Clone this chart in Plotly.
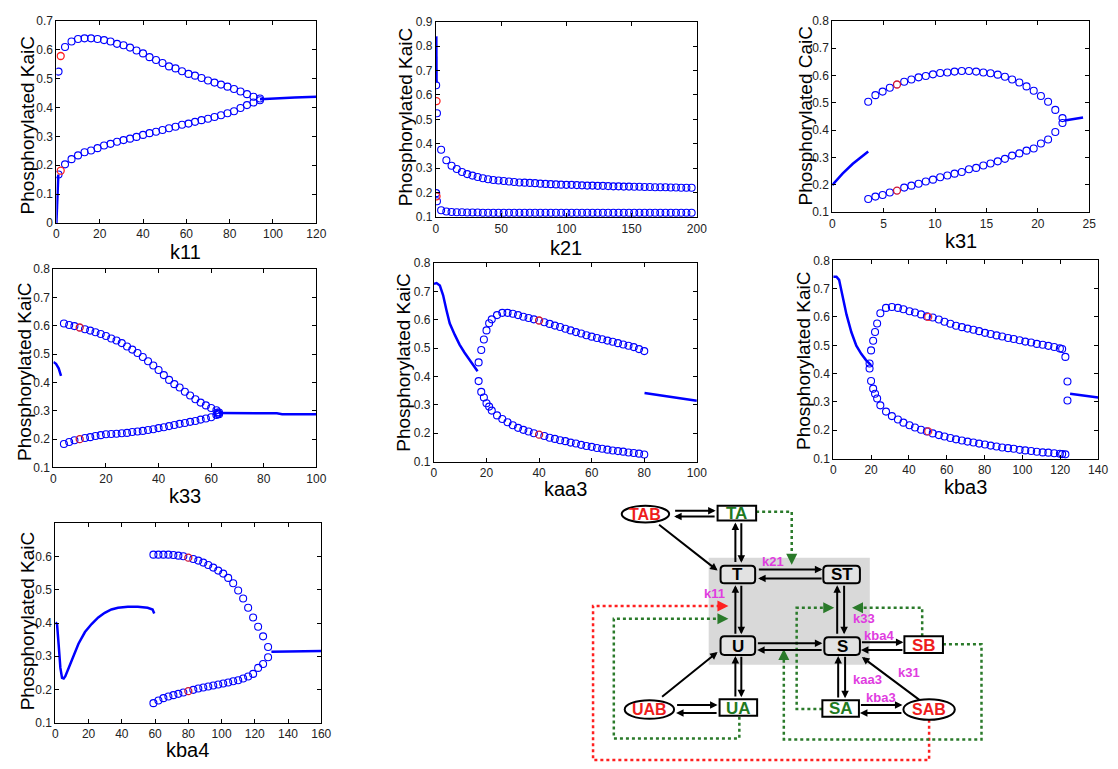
import plotly.graph_objects as go

W, H = 1118, 769
FONT = "Liberation Sans, Arial, sans-serif"
BLUE = "#0000ff"

# ------------------------------------------------------------------ data
# k11 panel
k11_line_x = [0, 0.3, 0.6, 0.9, None, 94, 100, 110, 120]
k11_line_y = [0.0, 0.09, 0.15, 0.168, None, 0.428, 0.431, 0.434, 0.437]
k11_x = [1, 4, 7, 10, 13, 16, 19, 22, 25, 28, 31, 34, 37, 40, 43, 46, 49, 52, 55, 58, 61, 64, 67, 70, 73, 76, 79, 82, 85, 88, 91, 94]
k11_up = [0.524, 0.609, 0.628, 0.637, 0.639, 0.639, 0.637, 0.633, 0.628, 0.620, 0.615, 0.607, 0.597, 0.587, 0.574, 0.564,
          0.554, 0.542, 0.535, 0.525, 0.516, 0.510, 0.502, 0.493, 0.486, 0.479, 0.472, 0.464, 0.455, 0.446, 0.437, 0.431]
k11_lo = [0.168, 0.203, 0.221, 0.234, 0.245, 0.251, 0.259, 0.268, 0.274, 0.281, 0.287, 0.292, 0.298, 0.305, 0.311, 0.316,
          0.322, 0.328, 0.333, 0.340, 0.344, 0.350, 0.356, 0.361, 0.367, 0.373, 0.380, 0.387, 0.398, 0.408, 0.417, 0.425]
k11_red_x = [2, 2]
k11_red_y = [0.578, 0.181]

# k21 panel
k21_line_x = [0.3, 0.4, 0.5]
k21_line_y = [0.84, 0.72, 0.65]
k21_x = [0.2, 0.8, 4, 8, 12, 16, 20, 24, 28, 32, 36, 40, 44, 48, 52, 56, 60, 64, 68, 72, 76, 80, 84, 88, 92, 96, 100,
         104, 108, 112, 116, 120, 124, 128, 132, 136, 140, 144, 148, 152, 156, 160, 164, 168, 172, 176, 180, 184,
         188, 192, 196]
k21_up = [0.640, 0.525, 0.376, 0.333, 0.310, 0.297, 0.285, 0.276, 0.270, 0.264, 0.259, 0.255, 0.252, 0.250, 0.248, 0.246,
          0.244, 0.242, 0.241, 0.240, 0.239, 0.237, 0.236, 0.235, 0.234, 0.233, 0.232, 0.232, 0.231, 0.230, 0.229,
          0.229, 0.228, 0.228, 0.227, 0.226, 0.226, 0.225, 0.225, 0.224, 0.224, 0.223, 0.223, 0.222, 0.222, 0.222,
          0.221, 0.221, 0.220, 0.220, 0.220]
k21_lo = [0.198, 0.165, 0.128, 0.123, 0.121, 0.120, 0.120, 0.119, 0.119, 0.119, 0.118, 0.118, 0.118, 0.118, 0.118, 0.118,
          0.118, 0.118, 0.118, 0.118, 0.118, 0.118, 0.118, 0.118, 0.118, 0.118, 0.118, 0.118, 0.118, 0.118, 0.118,
          0.118, 0.118, 0.118, 0.118, 0.118, 0.118, 0.118, 0.118, 0.118, 0.118, 0.118, 0.118, 0.118, 0.118, 0.118,
          0.118, 0.118, 0.118, 0.118, 0.118]
k21_red_x = [0.5, 0.5]
k21_red_y = [0.575, 0.185]

# k31 panel
k31_line_x = [0, 1, 2, 2.5, 3, 3.5, None, 22.6, 24.4]
k31_line_y = [0.199, 0.241, 0.277, 0.291, 0.307, 0.322, None, 0.435, 0.446]
k31_x = [3.5, 4.2, 4.9, 5.6, 7.0, 7.7, 8.4, 9.1, 9.8, 10.5, 11.2, 11.9, 12.6, 13.3, 14.0, 14.7, 15.4, 16.1, 16.8, 17.5,
         18.2, 18.9, 19.6, 20.3, 21.0, 21.7, 22.4]
k31_up = [0.504, 0.528, 0.541, 0.555, 0.577, 0.585, 0.593, 0.598, 0.604, 0.609, 0.611, 0.614, 0.616, 0.616, 0.614, 0.611,
          0.608, 0.603, 0.595, 0.585, 0.574, 0.560, 0.544, 0.525, 0.504, 0.474, 0.444]
k31_lo = [0.148, 0.157, 0.163, 0.172, 0.190, 0.197, 0.204, 0.212, 0.219, 0.228, 0.234, 0.241, 0.247, 0.257, 0.262, 0.271,
          0.278, 0.286, 0.295, 0.307, 0.315, 0.325, 0.333, 0.351, 0.366, 0.393, 0.426]
k31_red_x = [6.3, 6.3]
k31_red_y = [0.567, 0.179]

# k33 panel
k33_line_x = [0, 1, 2, 2.9, None, 63, 70, 85, 87, 100]
k33_line_y = [0.472, 0.466, 0.450, 0.423, None, 0.292, 0.292, 0.291, 0.288, 0.288]
k33_x = [4, 6, 8, 12, 14, 16, 18, 20, 22, 24, 26, 28, 30, 32, 34, 36, 38, 40, 42, 44, 46, 48, 50, 52, 54, 56, 58, 60,
         62, 62.5, 63]
k33_up = [0.608, 0.603, 0.599, 0.588, 0.583, 0.577, 0.571, 0.564, 0.555, 0.548, 0.539, 0.527, 0.516, 0.504, 0.490, 0.475,
          0.460, 0.444, 0.426, 0.409, 0.394, 0.382, 0.367, 0.354, 0.341, 0.329, 0.319, 0.310, 0.302, 0.294, 0.288]
k33_lo = [0.183, 0.190, 0.196, 0.204, 0.207, 0.211, 0.214, 0.217, 0.218, 0.219, 0.221, 0.222, 0.225, 0.227, 0.229, 0.232,
          0.235, 0.239, 0.242, 0.246, 0.250, 0.254, 0.257, 0.261, 0.264, 0.269, 0.273, 0.277, 0.285, 0.289, 0.294]
k33_red_x = [10, 10]
k33_red_y = [0.594, 0.200]

# kaa3 panel
kaa3_line_x = [0, 1, 2.25, 3.5, 4.75, 6, 7.9, 9.75, 11.6, 13.5, 15.4, 16.6, None, 80.1, 100]
kaa3_line_y = [0.727, 0.730, 0.721, 0.687, 0.635, 0.588, 0.548, 0.513, 0.485, 0.461, 0.438, 0.419, None, 0.342, 0.315]
kaa3_x = [17, 18, 19, 20, 21, 22, 24, 26, 28, 30, 32, 34, 36, 38, 42, 44, 46, 48, 50, 52, 54, 56, 58, 60, 62, 64, 66,
          68, 70, 72, 74, 76, 78, 80]
kaa3_up = [0.450, 0.494, 0.531, 0.563, 0.588, 0.602, 0.617, 0.625, 0.625, 0.622, 0.617, 0.611, 0.607, 0.602, 0.592,
           0.586, 0.580, 0.575, 0.569, 0.563, 0.557, 0.552, 0.546, 0.541, 0.536, 0.532, 0.527, 0.523, 0.518, 0.513,
           0.509, 0.504, 0.497, 0.490]
kaa3_lo = [0.384, 0.346, 0.326, 0.306, 0.294, 0.280, 0.263, 0.250, 0.239, 0.228, 0.219, 0.212, 0.206, 0.200, 0.190,
           0.184, 0.180, 0.175, 0.172, 0.167, 0.164, 0.159, 0.155, 0.152, 0.148, 0.145, 0.142, 0.139, 0.137, 0.135,
           0.132, 0.130, 0.128, 0.125]
kaa3_red_x = [40, 40]
kaa3_red_y = [0.598, 0.195]

# kba3 panel
kba3_line_x = [0, 1.7, 3.1, 4.9, 7, 9.6, 12.2, 14.8, 17.4, 20, None, 125.2, 140]
kba3_line_y = [0.742, 0.742, 0.731, 0.679, 0.609, 0.546, 0.499, 0.470, 0.447, 0.430, None, 0.329, 0.316]
kba3_x = [19.2, 20, 21.1, 22.1, 23.2, 24.9, 27.9, 31, 34.2, 37.1, 40.3, 43.2, 46.4, 49.5, 52.6, 55.8, 58.8, 61.9, 64.9,
          68, 71, 74.1, 77.1, 80.2, 83.2, 86.3, 89.3, 92.4, 95.4, 98.5, 101.5, 104.6, 107.6, 110.7, 113.7, 116.8,
          119.8, 121, 122.7, 123.8]
kba3_up = [0.436, 0.482, 0.516, 0.547, 0.577, 0.613, 0.632, 0.635, 0.632, 0.627, 0.620, 0.616, 0.609, 0.602, 0.598,
           0.591, 0.583, 0.576, 0.569, 0.564, 0.559, 0.555, 0.550, 0.544, 0.540, 0.535, 0.531, 0.526, 0.522, 0.518,
           0.513, 0.510, 0.505, 0.502, 0.498, 0.494, 0.489, 0.487, 0.459, 0.372]
kba3_lo = [0.418, 0.374, 0.347, 0.329, 0.312, 0.288, 0.266, 0.250, 0.238, 0.227, 0.218, 0.210, 0.202, 0.196, 0.189,
           0.183, 0.178, 0.173, 0.168, 0.164, 0.160, 0.157, 0.153, 0.150, 0.146, 0.143, 0.139, 0.137, 0.135, 0.131,
           0.129, 0.127, 0.124, 0.122, 0.121, 0.119, 0.117, 0.116, 0.115, 0.305]
kba3_red_x = [50.2, 50.2]
kba3_red_y = [0.600, 0.196]

# kba4 panel
kba4_line_x = [0, 1, 2, 3, 4, 5, 6, 7.9, 10.9, 13.9, 17.8, 21.8, 25.8, 29.7, 33.7, 37.7, 43.6, 49.6, 55.5, 57.5, 58.5,
               59.5, None, 130, 160]
kba4_line_y = [0.402, 0.397, 0.333, 0.265, 0.235, 0.233, 0.240, 0.265, 0.304, 0.338, 0.373, 0.397, 0.417, 0.431, 0.441,
               0.446, 0.449, 0.449, 0.446, 0.444, 0.441, 0.429, None, 0.314, 0.316]
kba4_x = [59, 62, 65, 68, 71, 74, 77, 83, 86, 89, 92, 95, 98, 101, 104, 107, 110, 113, 116, 119, 122, 125, 128]
kba4_up = [0.606, 0.606, 0.606, 0.606, 0.605, 0.603, 0.601, 0.593, 0.588, 0.582, 0.575, 0.567, 0.558, 0.549, 0.536,
           0.520, 0.498, 0.474, 0.446, 0.417, 0.389, 0.360, 0.328]
kba4_lo = [0.159, 0.167, 0.174, 0.179, 0.183, 0.187, 0.191, 0.199, 0.203, 0.206, 0.209, 0.212, 0.215, 0.218, 0.221,
           0.225, 0.228, 0.233, 0.239, 0.247, 0.265, 0.277, 0.297]
kba4_red_x = [80, 80]
kba4_red_y = [0.597, 0.195]

# tick labels
ticks_k11_x = [0, 20, 40, 60, 80, 100, 120]
ticks_k11_y = [0, 0.1, 0.2, 0.3, 0.4, 0.5, 0.6, 0.7]
labels_k11_y = ["0", "0.1", "0.2", "0.3", "0.4", "0.5", "0.6", "0.7"]
ticks_k21_x = [0, 50, 100, 150, 200]
ticks_k21_y = [0.1, 0.2, 0.3, 0.4, 0.5, 0.6, 0.7, 0.8, 0.9]
ticks_k31_x = [0, 5, 10, 15, 20, 25]
ticks_08_y = [0.1, 0.2, 0.3, 0.4, 0.5, 0.6, 0.7, 0.8]
ticks_100_x = [0, 20, 40, 60, 80, 100]
ticks_140_x = [0, 20, 40, 60, 80, 100, 120, 140]
ticks_160_x = [0, 20, 40, 60, 80, 100, 120, 140, 160]
ticks_kba4_y = [0.1, 0.2, 0.3, 0.4, 0.5, 0.6]

# ------------------------------------------------------------------ panels
panels = [
    dict(lx=k11_line_x, ly=k11_line_y, x=k11_x, up=k11_up, lo=k11_lo, rx=k11_red_x, ry=k11_red_y, red="#ff2020",
         box=(54, 317, 14, 220), xr=[0, 120], yr=[0, 0.7], xt=ticks_k11_x, yt=ticks_k11_y, ytl=labels_k11_y,
         xlab="k11", ylab="Phosphorylated KaiC", xlp=(185, 250), ylp=(25, 120)),
    dict(lx=k21_line_x, ly=k21_line_y, x=k21_x, up=k21_up, lo=k21_lo, rx=k21_red_x, ry=k21_red_y, red="#ff2020",
         box=(438, 702, 15, 214), xr=[0, 200], yr=[0.1, 0.9], xt=ticks_k21_x, yt=ticks_k21_y, ytl=None,
         xlab="k21", ylab="Phosphorylated KaiC", xlp=(570, 245), ylp=(408, 112)),
    dict(lx=k31_line_x, ly=k31_line_y, x=k31_x, up=k31_up, lo=k31_lo, rx=k31_red_x, ry=k31_red_y, red="#cc1133",
         box=(839, 1099, 14, 209), xr=[0, 25], yr=[0.1, 0.8], xt=ticks_k31_x, yt=ticks_08_y, ytl=None,
         xlab="k31", ylab="Phosphorylated CaiC", xlp=(969, 238), ylp=(812, 111)),
    dict(lx=k33_line_x, ly=k33_line_y, x=k33_x, up=k33_up, lo=k33_lo, rx=k33_red_x, ry=k33_red_y, red="#cc1133",
         box=(51, 317, 267, 469), xr=[0, 100], yr=[0.1, 0.8], xt=ticks_100_x, yt=ticks_08_y, ytl=None,
         xlab="k33", ylab="Phosphorylated KaiC", xlp=(184, 498), ylp=(22, 371)),
    dict(lx=kaa3_line_x, ly=kaa3_line_y, x=kaa3_x, up=kaa3_up, lo=kaa3_lo, rx=kaa3_red_x, ry=kaa3_red_y, red="#cc1133",
         box=(436, 702, 261, 463), xr=[0, 100], yr=[0.1, 0.8], xt=ticks_100_x, yt=ticks_08_y, ytl=None,
         xlab="kaa3", ylab="Phosphorylated KaiC", xlp=(569, 491), ylp=(405, 362)),
    dict(lx=kba3_line_x, ly=kba3_line_y, x=kba3_x, up=kba3_up, lo=kba3_lo, rx=kba3_red_x, ry=kba3_red_y, red="#ee3344",
         box=(840, 1108, 258, 460), xr=[0, 140], yr=[0.1, 0.8], xt=ticks_140_x, yt=ticks_08_y, ytl=None,
         xlab="kba3", ylab="Phosphorylated KaiC", xlp=(974, 489), ylp=(810, 360)),
    dict(lx=kba4_line_x, ly=kba4_line_y, x=kba4_x, up=kba4_up, lo=kba4_lo, rx=kba4_red_x, ry=kba4_red_y, red="#cc1133",
         box=(53, 322, 526, 729), xr=[0, 160], yr=[0.1, 0.7], xt=ticks_160_x, yt=ticks_kba4_y, ytl=None,
         xlab="kba4", ylab="Phosphorylated KaiC", xlp=(187, 757), ylp=(25, 625)),
]


def px(x):
    return x / W


def py(y):
    return 1 - y / H


fig = go.Figure()
layout = dict(width=W, height=H, autosize=False, margin=dict(l=0, r=0, t=0, b=0),
              paper_bgcolor="white", plot_bgcolor="white", showlegend=False)
annotations = []
shapes = []

axis_common = dict(showline=True, linecolor="black", linewidth=1, mirror="ticks", ticks="inside", ticklen=4,
                   tickwidth=1, tickcolor="black", showgrid=False, zeroline=False,
                   tickfont=dict(family=FONT, size=12, color="#222222"))

for i, p in enumerate(panels, start=1):
    xa, ya = f"x{i}", f"y{i}"
    x0, x1, y0, y1 = p["box"]
    fig.add_trace(go.Scatter(x=p["lx"], y=p["ly"], mode="lines", line=dict(color=BLUE, width=2.5),
                             xaxis=xa, yaxis=ya, connectgaps=False, hoverinfo="skip"))
    for branch in (p["up"], p["lo"]):
        fig.add_trace(go.Scatter(x=p["x"], y=branch, mode="markers", xaxis=xa, yaxis=ya,
                                 marker=dict(symbol="circle-open", size=7, color=BLUE, line=dict(width=1.1))))
    fig.add_trace(go.Scatter(x=p["rx"], y=p["ry"], mode="markers", xaxis=xa, yaxis=ya,
                             marker=dict(symbol="circle-open", size=7, color=p["red"], line=dict(width=1.3))))
    xkey = "xaxis" if i == 1 else f"xaxis{i}"
    ykey = "yaxis" if i == 1 else f"yaxis{i}"
    layout[xkey] = dict(axis_common, domain=[px(x0), px(x1)], range=p["xr"], anchor=ya,
                        tickmode="array", tickvals=p["xt"])
    yd = dict(axis_common, domain=[py(y1), py(y0)], range=p["yr"], anchor=xa, tickmode="array", tickvals=p["yt"])
    if p["ytl"] is not None:
        yd["ticktext"] = p["ytl"]
    layout[ykey] = yd
    annotations.append(dict(xref="paper", yref="paper", x=px(p["xlp"][0]), y=py(p["xlp"][1]), text=p["xlab"],
                            showarrow=False, xanchor="center", yanchor="middle",
                            font=dict(family=FONT, size=20, color="black")))
    annotations.append(dict(xref="paper", yref="paper", x=px(p["ylp"][0]), y=py(p["ylp"][1]), text=p["ylab"],
                            showarrow=False, xanchor="center", yanchor="middle", textangle=-90,
                            font=dict(family=FONT, size=19, color="black")))

# ------------------------------------------------------------------ network diagram (layout drawing)
GREEN_T = "#1f7a1f"
RED_T = "#ee1c1c"
MAG = "#e03ce0"
DOT_G = "#2a7a2a"
DOT_R = "#ff2020"


def rect(x0, y0, x1, y1, fill="white", lw=2, color="black", layer="above"):
    shapes.append(dict(type="rect", xref="paper", yref="paper", x0=px(x0), x1=px(x1), y0=py(y1), y1=py(y0),
                       fillcolor=fill, line=dict(color=color, width=lw), layer=layer))


def rrect(x0, y0, x1, y1, r=4, fill="#e2e2e2"):
    pts = [
        f"M{px(x0 + r)},{py(y0)}", f"L{px(x1 - r)},{py(y0)}", f"Q{px(x1)},{py(y0)} {px(x1)},{py(y0 + r)}",
        f"L{px(x1)},{py(y1 - r)}", f"Q{px(x1)},{py(y1)} {px(x1 - r)},{py(y1)}", f"L{px(x0 + r)},{py(y1)}",
        f"Q{px(x0)},{py(y1)} {px(x0)},{py(y1 - r)}", f"L{px(x0)},{py(y0 + r)}",
        f"Q{px(x0)},{py(y0)} {px(x0 + r)},{py(y0)}", "Z"]
    shapes.append(dict(type="path", xref="paper", yref="paper", path=" ".join(pts), fillcolor=fill,
                       line=dict(color="black", width=2)))


def ellipse(x0, y0, x1, y1):
    shapes.append(dict(type="circle", xref="paper", yref="paper", x0=px(x0), x1=px(x1), y0=py(y1), y1=py(y0),
                       fillcolor="white", line=dict(color="black", width=2)))


def dotted(points, color):
    path = "M" + " L".join(f"{px(a)},{py(b)}" for a, b in points)
    shapes.append(dict(type="path", xref="paper", yref="paper", path=path,
                       line=dict(color=color, width=2.5, dash="dot")))


def arrow(x0, y0, x1, y1, color="black", width=2, size=0.75):
    annotations.append(dict(xref="paper", yref="paper", x=px(x1), y=py(y1), axref="pixel", ayref="pixel",
                            ax=x0 - x1, ay=y0 - y1, text="", showarrow=True, arrowhead=2, arrowsize=size,
                            arrowwidth=width, arrowcolor=color, standoff=0, startstandoff=0))


def label(x, y, text, color, size=16, bold=True):
    t = f"<b>{text}</b>" if bold else text
    annotations.append(dict(xref="paper", yref="paper", x=px(x), y=py(y), text=t, showarrow=False,
                            xanchor="center", yanchor="middle", font=dict(family=FONT, size=size, color=color)))


# gray central region
rect(714, 561, 877, 670, fill="#d9d9d9", lw=0, color="#d9d9d9")

# dotted feedback lines
dotted([(762, 514), (798, 514), (798, 560)], DOT_G)
arrow(798, 558, 798, 568, DOT_G, 2, 1.1)
dotted([(745, 723), (745, 745), (618, 745), (618, 623), (724, 623)], DOT_G)
arrow(724, 623, 734, 623, DOT_G, 2, 1.1)
dotted([(937, 726), (937, 767), (597, 767), (597, 610), (724, 610)], DOT_R)
arrow(724, 610, 734, 610, DOT_R, 2, 1.1)
dotted([(829, 715), (803, 715), (803, 612), (832, 612)], DOT_G)
arrow(831, 612, 841, 612, DOT_G, 2, 1.1)
dotted([(930, 641), (930, 612), (868, 612)], DOT_G)
arrow(869, 612, 859, 612, DOT_G, 2, 1.1)
dotted([(951, 649), (990, 649), (990, 746), (790, 746), (790, 664)], DOT_G)
arrow(790, 664, 790, 654, DOT_G, 2, 1.1)

# solid reaction arrows
solid_arrows = [
    (679, 513, 721, 513), (721, 519, 679, 519),
    (741, 566, 741, 525), (747, 525, 747, 566),
    (663, 527, 723, 574),
    (764, 573, 829, 573), (829, 582, 764, 582),
    (741, 639, 741, 589), (747, 589, 747, 639),
    (844, 639, 844, 589), (851, 589, 851, 639),
    (763, 648, 829, 648), (829, 655, 763, 655),
    (741, 703, 741, 661), (747, 661, 747, 703),
    (666, 703, 723, 657),
    (681, 711, 723, 711), (723, 719, 681, 719),
    (868, 647, 911, 647), (911, 655, 868, 655),
    (845, 704, 845, 661), (852, 661, 852, 704),
    (928, 706, 869, 662),
    (867, 711, 910, 711), (910, 719, 867, 719),
]
for a in solid_arrows:
    arrow(*a)

# nodes
rrect(726, 569, 761, 587)
rrect(830, 569, 867, 587)
rrect(726, 641, 761, 660)
rrect(831, 642, 867, 660)
rect(723, 508, 762, 523)
rect(725, 705, 763, 722)
rect(829, 706, 866, 723)
rect(912, 641, 951, 658)
ellipse(626, 508, 674, 525)
ellipse(629, 706, 679, 725)
ellipse(911, 705, 963, 726)

label(743.5, 578, "T", "black", 17)
label(848.5, 578, "ST", "black", 17)
label(743.5, 651, "U", "black", 17)
label(849, 651, "S", "black", 17)
label(742.5, 516, "TA", GREEN_T, 17)
label(744, 714, "UA", GREEN_T, 17)
label(847.5, 715, "SA", GREEN_T, 17)
label(931.5, 650, "SB", RED_T, 17)
label(650, 517, "TAB", RED_T, 16)
label(654, 716, "UAB", RED_T, 16)
label(937, 716, "SAB", RED_T, 16)

label(779, 565, "k21", MAG, 13)
label(720, 597, "k11", MAG, 13)
label(871, 623, "k33", MAG, 13)
label(886, 640, "kba4", MAG, 13)
label(875, 685, "kaa3", MAG, 13)
label(917, 678, "k31", MAG, 13)
label(888, 703, "kba3", MAG, 13)

layout["annotations"] = annotations
layout["shapes"] = shapes
fig.update_layout(**layout)
fig.write_html("out.html")
